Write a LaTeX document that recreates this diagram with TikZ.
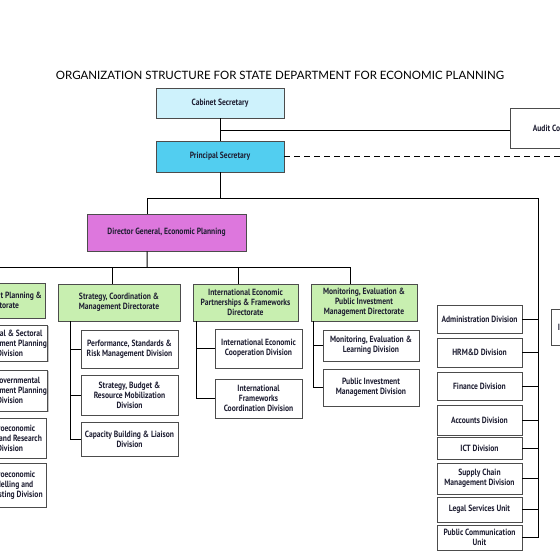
\documentclass[tikz,border=0pt]{standalone}
\usepackage{fontspec}
\setmainfont{PT Sans}
\newfontfamily\boxfont{PT Sans}[FakeStretch=0.84]
\newfontfamily\titlefont{Lato}
\usetikzlibrary{shadows}

\definecolor{csblue}{RGB}{206,242,252}
\definecolor{psblue}{RGB}{82,206,240}
\definecolor{dgpink}{RGB}{221,119,221}
\definecolor{dirgreen}{RGB}{200,239,176}
\definecolor{boxtext}{RGB}{30,30,50}

\tikzset{
	orgbox/.style={draw=black!70, line width=0.9pt, fill=white, align=center,
		inner sep=1pt, text=boxtext,
		font=\boxfont\bfseries\fontsize{9}{10}\selectfont,
		drop shadow={shadow xshift=1pt, shadow yshift=-1pt, fill=black!45}},
	boxsize/.style 2 args={minimum width=#1pt, minimum height=#2pt},
	dirbox/.style={orgbox, fill=dirgreen},
}

\begin{document}
\begin{tikzpicture}[x=1pt, y=-1pt, line width=1pt]
	
	\useasboundingbox (0,0) rectangle (560,560);
	\fill[white] (0,0) rectangle (560,560);
	\clip (0,0) rectangle (560,560);
	
	% Title
	\node[font=\titlefont\fontsize{11.5}{13}\selectfont] (title) at (280,75)
	{ORGANIZATION STRUCTURE FOR STATE DEPARTMENT FOR ECONOMIC PLANNING};
	
	% Top of the structure
	\node[orgbox, fill=csblue, boxsize={128}{30}] (cs) at (220,103) {Cabinet Secretary};
	\node[orgbox, fill=psblue, boxsize={128}{31}] (ps) at (220,156.5) {Principal Secretary};
	\node[orgbox, boxsize={100}{40}] (audit) at (560,128) {Audit Committee};
	\node[orgbox, fill=dgpink, boxsize={159}{37}] (dg) at (166.5,232.5) {Director General, Economic Planning};
	
	% Directorates
	\node[dirbox, boxsize={88}{35}] (macro) at (1,300.5) {Development Planning \&\\Directorate};
	\node[dirbox, boxsize={122}{37}] (strat) at (119,302.5) {Strategy, Coordination \&\\Management Directorate};
	\node[dirbox, boxsize={105}{37}] (iep) at (245.5,302.5) {International Economic\\Partnerships \& Frameworks\\Directorate};
	\node[dirbox, boxsize={106}{37}] (mepim) at (364,302.5) {Monitoring, Evaluation \&\\Public Investment\\Management Directorate};
	
	% Divisions under the directorates
	\node[orgbox, boxsize={72}{36}] (rsdp) at (10,343) {Regional \& Sectoral\\Development Planning\\Division};
	\node[orgbox, boxsize={72}{41}] (igdp) at (10,390.5) {Intergovernmental\\Development Planning\\Division};
	\node[orgbox, boxsize={72}{40}] (mpr) at (10,438) {Macroeconomic\\Policy and Research\\Division};
	\node[orgbox, boxsize={72}{44}] (mmf) at (10,485) {Macroeconomic\\Modelling and\\Forecasting Division};
	
	\node[orgbox, boxsize={97}{38}] (perf) at (129.5,349) {Performance, Standards \&\\Risk Management Division};
	\node[orgbox, boxsize={97}{40}] (sbrm) at (129.5,395) {Strategy, Budget \&\\Resource Mobilization\\Division};
	\node[orgbox, boxsize={97}{34}] (cbl) at (129.5,439) {Capacity Building \& Liaison\\Division};
	
	\node[orgbox, boxsize={87}{39}] (iec) at (258.5,348.5) {International Economic\\Cooperation Division};
	\node[orgbox, boxsize={87}{39}] (ifc) at (258.5,398.5) {International\\Frameworks\\Coordination Division};
	
	\node[orgbox, boxsize={96}{31}] (mel) at (371,345.5) {Monitoring, Evaluation \&\\Learning Division};
	\node[orgbox, boxsize={96}{37}] (pim) at (371,387.5) {Public Investment\\Management Division};
	
	% Divisions and units under the Principal Secretary
	\node[orgbox, boxsize={85}{28}] (admin) at (479.5,319) {Administration Division};
	\node[orgbox, boxsize={85}{29}] (hrmd) at (479.5,352.5) {HRM\&D Division};
	\node[orgbox, boxsize={85}{28}] (fin) at (479.5,386) {Finance Division};
	\node[orgbox, boxsize={85}{30}] (acc) at (479.5,420) {Accounts Division};
	\node[orgbox, boxsize={85}{22}] (ict) at (479.5,448) {ICT Division};
	\node[orgbox, boxsize={85}{31}] (scm) at (479.5,478.5) {Supply Chain\\Management Division};
	\node[orgbox, boxsize={85}{25}] (legal) at (479.5,509.5) {Legal Services Unit};
	\node[orgbox, boxsize={85}{25}] (pcu) at (479.5,537.5) {Public Communication\\Unit};
	\node[orgbox, boxsize={74}{36}] (inaudit) at (588,327) {Internal Audit Unit};
	
	% Joints of the connectors
	\coordinate (csjoin) at (220,130);
	\coordinate (psjoin) at (220,198);
	\coordinate (rbar) at (538,198);
	\coordinate (rim) at (565,0);
	\coordinate (dirbar) at (147,267);
	
	% Connectors at the top
	\draw (cs) -- (ps);
	\draw (csjoin) -- (csjoin -| audit.west);
	\draw[dash pattern=on 6pt off 4pt] (ps.east) -- (ps.east -| rim);
	\draw (ps) -- (psjoin);
	\draw ([xshift=60.5pt]dg.north west) |- (rbar) -- (rbar |- pcu.east);
	\foreach \u in {admin,hrmd,fin,acc,ict,scm,legal,pcu} {
		\draw (\u.east) -- (\u.east -| rbar);
	}
	
	% Director General to the directorates
	\draw ([xshift=60.5pt]dg.south west) -- (dirbar);
	\draw ([xshift=30pt]macro.north west) |- (dirbar);
	\draw ([xshift=55pt]strat.north west) |- (dirbar);
	\draw ([xshift=46pt]iep.north west) |- (dirbar);
	\draw ([xshift=40pt]mepim.north west) |- (dirbar);
	
	% Directorates to their divisions
	\foreach \d in {rsdp,igdp,mpr,mmf} {
		\draw ([xshift=13pt]macro.south west) |- (\d.west);
	}
	\foreach \d in {perf,sbrm,cbl} {
		\draw ([xshift=13pt]strat.south west) |- (\d.west);
	}
	\foreach \d in {iec,ifc} {
		\draw ([xshift=4pt]iep.south west) |- (\d.west);
	}
	\foreach \d in {mel,pim} {
		\draw ([xshift=3pt]mepim.south west) |- (\d.west);
	}
	
\end{tikzpicture}
\end{document}
